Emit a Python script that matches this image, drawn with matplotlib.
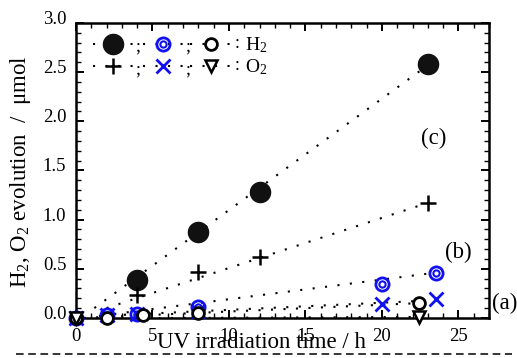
import matplotlib
matplotlib.use("Agg")
import matplotlib.pyplot as plt
import matplotlib.transforms as mtransforms
from matplotlib.lines import Line2D
from matplotlib.ticker import MultipleLocator, FormatStrFormatter

plt.rcParams['font.family'] = ['Liberation Serif', 'DejaVu Serif']
plt.rcParams['mathtext.fontset'] = 'custom'
plt.rcParams['mathtext.rm'] = 'Liberation Serif'
plt.rcParams['mathtext.default'] = 'regular'

# (c) series: filled circle = H2, plus = O2
t_c = [4, 8, 12, 23]
h2_c = [0.39, 0.87, 1.28, 2.58]
o2_c = [0.23, 0.47, 0.62, 1.17]

# (b) series: blue double circle = H2, blue cross = O2
t_b = [0, 2, 4, 8, 20, 23.5]
h2_b = [0.0, 0.03, 0.04, 0.11, 0.34, 0.46]
o2_b = [0.0, 0.03, 0.04, 0.07, 0.14, 0.19]

# (a) series: open circle = H2, open triangle = O2
t_a = [0, 2, 4.4, 8, 22.4]
h2_a = [0.0, 0.0, 0.03, 0.05, 0.155]
t_a_o2 = [0, 22.4]
o2_a = [0.0, 0.01]

# dotted fit lines (end points)
fit_c_h2 = ([1.2, 23], [0.10, 2.57])
fit_c_o2 = ([2.0, 23], [0.10, 1.17])
fit_b_h2 = ([2.5, 23.5], [0.04, 0.46])
fit_b_o2 = ([1.5, 23.5], [0.02, 0.18])
fit_a_h2 = ([0.5, 22.4], [0.0, 0.15])
fit_a_o2 = ([0.5, 22.4], [-0.005, 0.01])

blue = '#1010f0'
dot = (0, (1, 5))

fig = plt.figure(figsize=(5.17, 3.58), dpi=100)
ax = fig.add_axes([0.147, 0.112, 0.799, 0.824])

for fx, fy in [fit_c_h2, fit_c_o2, fit_b_h2, fit_b_o2, fit_a_h2, fit_a_o2]:
    ax.plot(fx, fy, color='black', linestyle=dot, linewidth=1.5, zorder=2)

# (b)
ax.plot(t_b, h2_b, linestyle='none', marker='o', ms=9.5, mfc='none', mec=blue, mew=2, zorder=3, clip_on=False)
ax.plot(t_b, h2_b, linestyle='none', marker='o', ms=4.5, mfc='none', mec=blue, mew=1.5, zorder=3, clip_on=False)
ax.plot(t_b, o2_b, linestyle='none', marker='x', ms=9.5, mec=blue, mew=2, zorder=3, clip_on=False)
# (a)
ax.plot(t_a, h2_a, linestyle='none', marker='o', ms=8.5, mfc='white', mec='black', mew=2, zorder=4, clip_on=False)
ax.plot(t_a_o2, o2_a, linestyle='none', marker='v', ms=8, mfc='white', mec='black', mew=1.8, zorder=4, clip_on=False)
# (c)
ax.plot(t_c, h2_c, linestyle='none', marker='o', ms=14.5, color='#111111', zorder=4, clip_on=False)
ax.plot(t_c, o2_c, linestyle='none', marker='+', ms=12, mec='black', mew=1.8, zorder=4, clip_on=False)

ax.set_xlim(0, 27)
ax.set_ylim(0, 3.0)
ax.xaxis.set_major_locator(MultipleLocator(5))
ax.xaxis.set_minor_locator(MultipleLocator(1))
ax.yaxis.set_major_locator(MultipleLocator(0.5))
ax.yaxis.set_minor_locator(MultipleLocator(0.1))
ax.yaxis.set_major_formatter(FormatStrFormatter('%.1f'))

for s in ax.spines.values():
    s.set_linewidth(1.8)
ax.tick_params(which='both', direction='in', top=True, right=True, labelsize=13.5)
ax.tick_params(which='major', length=6, width=1.4, pad=7)
ax.tick_params(which='minor', length=3.5, width=1.0)

# y tick labels sit a little above their ticks in the original
shift = mtransforms.ScaledTranslation(0, 4 / 72, fig.dpi_scale_trans)
for lab in ax.get_yticklabels():
    lab.set_transform(lab.get_transform() + shift)

ax.set_xlabel('UV irradiation time / h', fontsize=16.5)
ax.xaxis.set_label_coords(0.45, -0.048)
ax.set_ylabel('H$_2$, O$_2$ evolution  /  μmol', fontsize=16.5)
ax.yaxis.set_label_coords(-0.105, 0.495)

ax.text(23.35, 1.83, '(c)', fontsize=16.5, ha='center', va='center')
ax.text(25.0, 0.67, '(b)', fontsize=16.5, ha='center', va='center')
ax.text(28.0, 0.15, '(a)', fontsize=16.5, ha='center', va='center', clip_on=False)

# hand-made legend in the upper left
tr = ax.transAxes
rows = [
    (0.929, [('o', dict(ms=14.5, color='#111111')),
             ('o', dict(ms=9.5, mfc='none', mec=blue, mew=2)),
             ('o', dict(ms=8.5, mfc='white', mec='black', mew=2))], 'H$_2$'),
    (0.854, [('+', dict(ms=12, mec='black', mew=1.8)),
             ('x', dict(ms=9.5, mec=blue, mew=2)),
             ('v', dict(ms=8, mfc='white', mec='black', mew=1.8))], 'O$_2$'),
]
xs = [0.090, 0.211, 0.327]
for y, marks, lab in rows:
    for i, (x, (m, kw)) in enumerate(zip(xs, marks)):
        ax.plot([x - 0.05, x + 0.05], [y, y], transform=tr, color='black',
                linestyle=dot, linewidth=1.5, zorder=5)
        ax.plot([x], [y], transform=tr, marker=m, linestyle='none', zorder=6, **kw)
        if i == 1 and y > 0.9:
            ax.plot([x], [y], transform=tr, marker='o', ms=4.5, mfc='none',
                    mec=blue, mew=1.5, linestyle='none', zorder=6)
        if i < 2:
            ax.text(x + 0.06, y - 0.012, ';', transform=tr, fontsize=13,
                    ha='center', va='center', zorder=6)
    ax.text(0.389, y, ':', transform=tr, fontsize=13, ha='center', va='center')
    ax.text(0.41, y - 0.005, lab, transform=tr, fontsize=14, ha='left', va='center')

# dashed rule along the bottom of the figure
fig.add_artist(Line2D([0.03, 0.99], [0.011, 0.011], transform=fig.transFigure,
                      color='black', linestyle=(0, (5, 3)), linewidth=1.1))

fig.savefig('out.png', dpi=100)
